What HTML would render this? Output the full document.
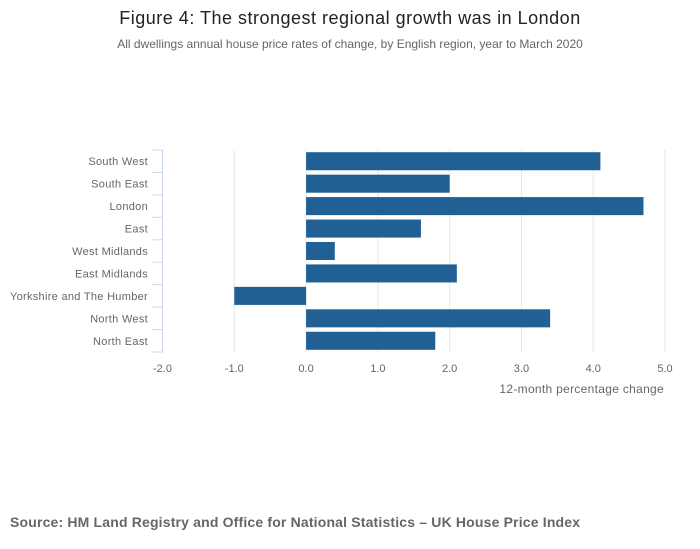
<!DOCTYPE html>
<html><head><meta charset="utf-8"><style>
body{margin:0;background:#fff;width:700px;height:549px;overflow:hidden;font-family:"Liberation Sans",sans-serif;}
svg{display:block}
</style></head><body>
<svg width="700" height="549" id="c">
<text x="350" y="24" text-anchor="middle" font-size="18" letter-spacing="0.5" fill="#222">Figure 4: The strongest regional growth was in London</text>
<text x="350" y="48" text-anchor="middle" font-size="12" fill="#666">All dwellings annual house price rates of change, by English region, year to March 2020</text>
<text x="10" y="527" font-size="14" font-weight="bold" letter-spacing="0.17" fill="#666">Source: HM Land Registry and Office for National Statistics – UK House Price Index</text>
<text x="664" y="393" text-anchor="end" font-size="12" letter-spacing="0.3" fill="#666">12-month percentage change</text>
<g id="grid"></g><g id="bars"></g><g id="axis"></g>
</svg>
<script>
const categories=["South West","South East","London","East","West Midlands","East Midlands","Yorkshire and The Humber","North West","North East"];
const values=[4.1,2.0,4.7,1.6,0.4,2.1,-1.0,3.4,1.8];
const ticks=[-2,-1,0,1,2,3,4,5];
const tickLabels=["-2.0","-1.0","0.0","1.0","2.0","3.0","4.0","5.0"];
const NS="http://www.w3.org/2000/svg";
const x0=162.5,x1=665,yTop=150,yBot=352,xmin=-2,xmax=5;
const xs=v=>x0+(v-xmin)/(xmax-xmin)*(x1-x0);
const band=(yBot-yTop)/categories.length;
function mk(t,a,p){const e=document.createElementNS(NS,t);for(const k in a)e.setAttribute(k,a[k]);p.appendChild(e);return e;}
const g=document.getElementById('grid'),b=document.getElementById('bars'),ax=document.getElementById('axis');
ticks.forEach((t,i)=>{
 if(t>xmin){const l=mk('line',{x1:xs(t),x2:xs(t),y1:yTop,y2:yBot,stroke:'#e6e6e6','stroke-width':1},g);
 
 }
 const tx=mk('text',{x:xs(t),y:372,'text-anchor':'middle','font-size':11,fill:'#666'},ax);
 tx.textContent=tickLabels[i];
 
 
});
const al=mk('line',{x1:x0,x2:x0,y1:yTop,y2:yBot,stroke:'#ccd6eb','stroke-width':1},ax);


for(let i=0;i<=categories.length;i++){
 const y=yTop+i*band;
 const tk=mk('line',{x1:x0-10,x2:x0,y1:y,y2:y,stroke:'#ccd6eb','stroke-width':1},ax);
 
 
}
categories.forEach((c,i)=>{
 const y=yTop+i*band;
 const v=values[i];
 const r=mk('rect',{x:Math.min(xs(0),xs(v)),y:y+2.2,width:Math.abs(xs(v)-xs(0)),height:band-4.4,fill:'#206095'},b);
 
 
 const t=mk('text',{x:148,y:y+band/2+4,'text-anchor':'end','font-size':11,'letter-spacing':0.3,fill:'#666'},ax);
 t.textContent=c;
 
 
});
</script>
</body></html>
